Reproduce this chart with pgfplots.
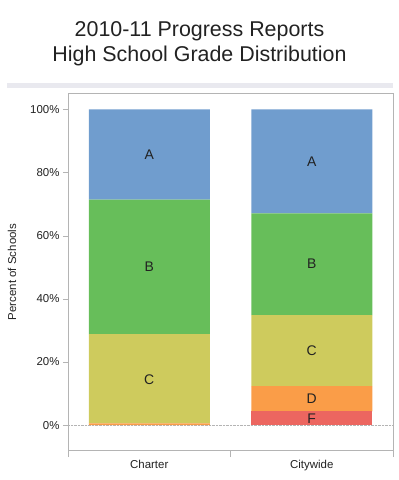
\documentclass[border=0pt]{standalone}
\usepackage{pgfplots}
\pgfplotsset{compat=1.18}
\usepackage{fontspec}
\setmainfont{Liberation Sans}
\definecolor{cA}{HTML}{709DCE}
\definecolor{cB}{HTML}{67BE5A}
\definecolor{cC}{HTML}{CECB5D}
\definecolor{cD}{HTML}{FA9D48}
\definecolor{cF}{HTML}{EC6660}
\definecolor{band}{HTML}{E9E9EF}
\definecolor{axgray}{HTML}{B4B4B4}
\definecolor{txt}{HTML}{222222}
\newcommand{\seg}{\fontsize{14}{16}\selectfont}
\begin{document}
\begin{tikzpicture}
\useasboundingbox (0bp,0bp) rectangle (399bp,480bp);
\fill[band] (7bp,392bp) rectangle (393bp,397bp);
\node[anchor=base,text=txt,font=\fontsize{21.5}{26}\selectfont] at (199.5bp,443.3bp) {2010-11 Progress Reports};
\node[anchor=base,text=txt,font=\fontsize{21.5}{26}\selectfont] at (199.5bp,418bp) {High School Grade Distribution};
\node[rotate=90,text=txt,font=\fontsize{11.5}{13}\selectfont] at (12bp,208bp) {Percent of Schools};
\begin{axis}[
  at={(68bp,30bp)}, anchor=south west, scale only axis,
  width=325bp, height=357bp,
  ybar stacked, bar width=121bp,
  xmin=-0.5, xmax=1.5, ymin=-7.9, ymax=105.2,
  xtick={0,1}, xticklabels={Charter,Citywide},
  major x tick style={draw=none},
  extra x ticks={-0.5,0.5,1.5}, extra x tick labels={},
  extra x tick style={major tick length=7bp, major x tick style={draw=axgray}},
  ytick={0,20,40,60,80,100},
  yticklabels={0\%,20\%,40\%,60\%,80\%,100\%},
  tick align=outside, tick pos=left,
  major tick length=5bp,
  major y tick style={draw=axgray},
  axis line style={draw=axgray},
  tick label style={font=\fontsize{11.5}{13}\selectfont, text=txt},
  xticklabel style={yshift=-2bp},
]
\addplot[fill=cF, draw=none] coordinates {(0,0) (1,4.3)};
\addplot[fill=cD, draw=none] coordinates {(0,0.5) (1,8.0)};
\addplot[fill=cC, draw=none] coordinates {(0,28.3) (1,22.5)};
\addplot[fill=cB, draw=none] coordinates {(0,42.6) (1,32.3)};
\addplot[fill=cA, draw=none] coordinates {(0,28.6) (1,32.9)};
\draw[axgray, densely dotted] (axis cs:-0.5,0) -- (axis cs:1.5,0);
\coordinate (chA) at (axis cs:0,85.7);
\coordinate (chB) at (axis cs:0,50.1);
\coordinate (chC) at (axis cs:0,14.4);
\coordinate (cwA) at (axis cs:1,83.5);
\coordinate (cwB) at (axis cs:1,51.0);
\coordinate (cwC) at (axis cs:1,23.5);
\coordinate (cwD) at (axis cs:1,8.3);
\coordinate (cwF) at (axis cs:1,2.15);
\end{axis}
\node[text=txt] at (chA) {\seg A};
\node[text=txt] at (chB) {\seg B};
\node[text=txt] at (chC) {\seg C};
\node[text=txt] at (cwA) {\seg A};
\node[text=txt] at (cwB) {\seg B};
\node[text=txt] at (cwC) {\seg C};
\node[text=txt] at (cwD) {\seg D};
\node[text=txt] at (cwF) {\seg F};
\end{tikzpicture}
\end{document}
